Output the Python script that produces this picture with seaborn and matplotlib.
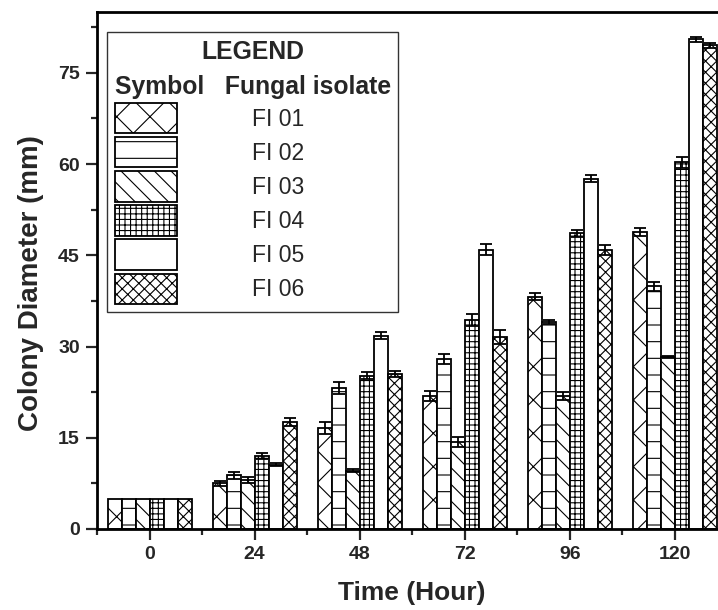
import numpy as np
import pandas as pd
import matplotlib
matplotlib.use("Agg")
import matplotlib.pyplot as plt
import seaborn as sns
from matplotlib.ticker import MultipleLocator

# ---- data ----
hours = [0, 24, 48, 72, 96, 120]
isolates = ["FI 01", "FI 02", "FI 03", "FI 04", "FI 05", "FI 06"]

fi01 = [5.0, 7.5, 16.6, 21.9, 38.2, 48.8]
fi02 = [5.0, 8.8, 23.2, 28.0, 34.0, 39.9]
fi03 = [5.0, 8.0, 9.6, 14.3, 21.9, 28.3]
fi04 = [5.0, 12.0, 25.2, 34.3, 48.6, 60.3]
fi05 = [5.0, 10.6, 31.8, 45.9, 57.6, 80.5]
fi06 = [5.0, 17.6, 25.5, 31.6, 45.9, 79.5]

fi01_err = [0.0, 0.4, 1.0, 0.8, 0.6, 0.7]
fi02_err = [0.0, 0.6, 1.0, 0.8, 0.3, 0.7]
fi03_err = [0.0, 0.5, 0.3, 0.9, 0.7, 0.2]
fi04_err = [0.0, 0.5, 0.6, 1.0, 0.6, 0.9]
fi05_err = [0.0, 0.3, 0.6, 0.9, 0.6, 0.4]
fi06_err = [0.0, 0.6, 0.5, 1.2, 0.8, 0.4]

values = [fi01, fi02, fi03, fi04, fi05, fi06]
errors = [fi01_err, fi02_err, fi03_err, fi04_err, fi05_err, fi06_err]
hatches = ["x", "-", "\\\\", "+++", "", "xxx"]

rows = []
for name, vals in zip(isolates, values):
    for h, v in zip(hours, vals):
        rows.append({"Time": h, "Isolate": name, "Diameter": v})
df = pd.DataFrame(rows)

err_lookup = {(name, h): e for name, errs in zip(isolates, errors) for h, e in zip(hours, errs)}

# ---- style ----
sns.set_style("ticks")
plt.rcParams["font.family"] = ["Liberation Sans", "DejaVu Sans"]
plt.rcParams["hatch.linewidth"] = 0.8
plt.rcParams["hatch.color"] = "black"

fig = plt.figure(figsize=(7.18, 6.10), dpi=100)
ax = fig.add_axes([0.1351, 0.1328, 0.878, 0.8475])

sns.barplot(data=df, x="Time", y="Diameter", hue="Isolate", hue_order=isolates,
            palette=["white"] * 6, native_scale=True, width=0.8, gap=0,
            errorbar=None, edgecolor="black", linewidth=1.3, saturation=1,
            legend=False, ax=ax)

bar_containers = list(ax.containers)[:6]
xs, ys, es = [], [], []
for name, cont, hatch in zip(isolates, bar_containers, hatches):
    for p in cont.patches:
        p.set_hatch(hatch)
        p.set_edgecolor("black")
        p.set_facecolor("white")
        cx = p.get_x() + p.get_width() / 2
        h = int(round(cx / 24.0) * 24)
        e = err_lookup[(name, h)]
        if e > 0:
            xs.append(cx)
            ys.append(p.get_height())
            es.append(e)

ax.errorbar(xs, ys, yerr=es, fmt="none", ecolor="black", elinewidth=1.3,
            capsize=4.5, capthick=1.3, zorder=5)

# ---- axes ----
ax.set_xlim(-12, 132)
ax.set_ylim(0, 85)
ax.set_xticks(hours)
ax.set_xticklabels([str(h) for h in hours])
ax.xaxis.set_minor_locator(MultipleLocator(12))
ax.set_yticks([0, 15, 30, 45, 60, 75])
ax.yaxis.set_minor_locator(MultipleLocator(7.5))

ax.tick_params(which="major", direction="out", length=8, width=1.6, pad=4.5,
               labelsize=14)
ax.tick_params(which="minor", direction="out", length=4.5, width=1.6)
for lab in ax.get_xticklabels() + ax.get_yticklabels():
    lab.set_fontweight("bold")

for side in ["top", "left", "bottom", "right"]:
    ax.spines[side].set_visible(True)
    ax.spines[side].set_linewidth(2.0)
    ax.spines[side].set_color("black")

ax.set_xlabel("Time (Hour)", fontsize=19, fontweight="bold", labelpad=13)
ax.set_ylabel("Colony Diameter (mm)", fontsize=20, fontweight="bold")
ax.yaxis.set_label_coords(-0.084, 0.476)

leg = ax.legend(handles=bar_containers, labels=isolates,
                title="LEGEND\nSymbol   Fungal isolate",
                loc="upper left", bbox_to_anchor=(0.016, 0.961), borderaxespad=0,
                prop={"size": 16.5},
                title_fontproperties={"size": 17.8, "weight": "bold"},
                handlelength=2.7, handleheight=1.67, labelspacing=0.16,
                handletextpad=3.3, borderpad=0.33, fancybox=False,
                alignment="left",
                edgecolor="#333333", framealpha=1)
leg.get_frame().set_linewidth(1.0)
leg.get_title().set_multialignment("center")
leg.get_title().set_linespacing(1.6)

fig.savefig("out.png", dpi=100)
